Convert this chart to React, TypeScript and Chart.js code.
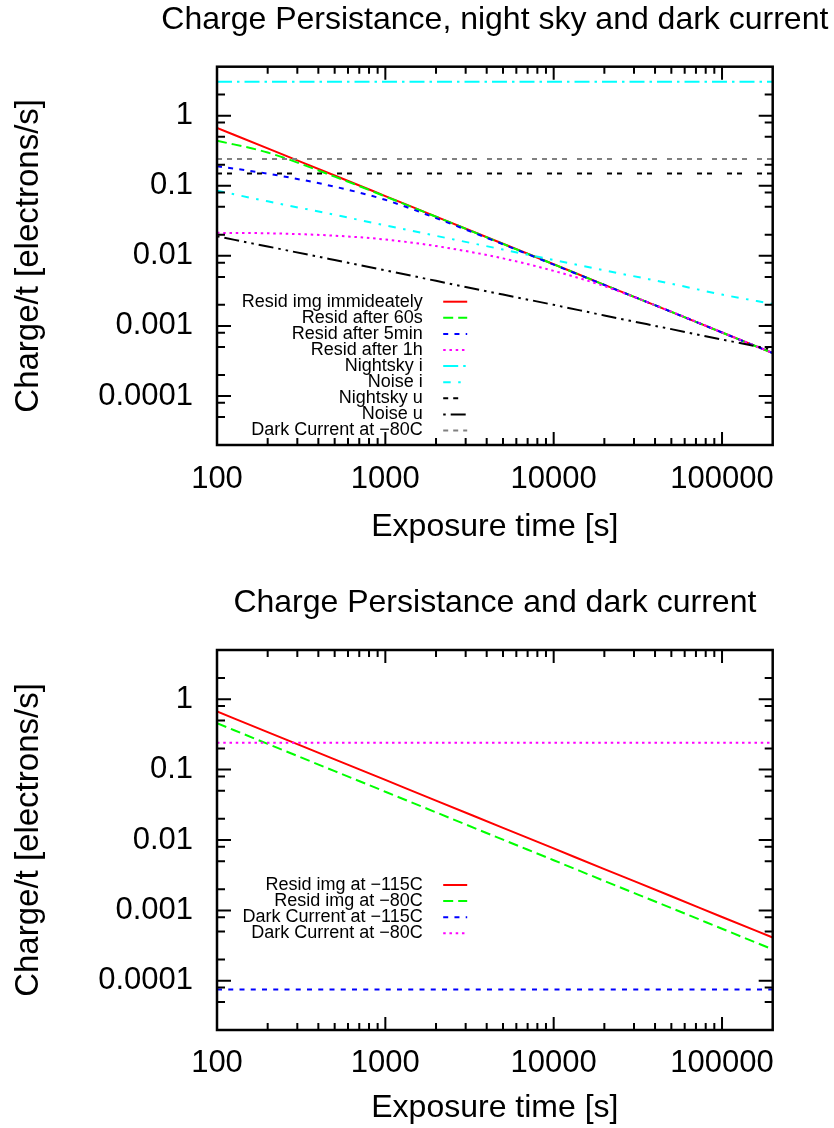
import React, { useEffect, useRef } from "react";
import { Chart, registerables } from "chart.js";

Chart.register(...registerables);

const FONT_FAMILY = '"Liberation Sans", Arial, Helvetica, sans-serif';

// ---------------- data ----------------
const exposureTimes = [100, 200, 500, 1000, 2000, 5000, 10000, 20000, 50000, 100000, 200000];
const flatTimes = [100, 200000];

// top chart
const residImmediately = [0.67, 0.341, 0.14, 0.0713, 0.0363, 0.0149, 0.00759, 0.00386, 0.00159, 0.000807, 0.000411];
const residAfter60s = [0.44, 0.298, 0.135, 0.0704, 0.0361, 0.0148, 0.00757, 0.00385, 0.00159, 0.000806, 0.00041];
const residAfter5min = [0.19, 0.149, 0.097, 0.063, 0.0345, 0.0146, 0.0075, 0.00384, 0.00159, 0.000806, 0.00041];
const residAfter1h = [0.0213, 0.021, 0.0194, 0.0171, 0.0138, 0.0092, 0.0061, 0.0037, 0.0016, 0.00081, 0.00041];
const nightskyI = [3.05, 3.05];
const noiseI = [0.085, 0.06, 0.0385, 0.0272, 0.0193, 0.0123, 0.0087, 0.0062, 0.004, 0.0028, 0.00206];
const nightskyU = [0.15, 0.15];
const noiseU = [0.019, 0.0136, 0.0087, 0.0062, 0.0044, 0.0028, 0.002, 0.00141, 0.0009, 0.00064, 0.00046];
const darkCurrent80 = [0.24, 0.24];

// bottom chart
const residAt115 = [0.67, 0.341, 0.14, 0.0713, 0.0363, 0.0149, 0.00759, 0.00386, 0.00159, 0.000807, 0.000411];
const residAt80 = [0.456, 0.232, 0.0952, 0.0485, 0.0247, 0.0101, 0.00516, 0.00262, 0.00108, 0.000549, 0.000279];
const darkAt115 = [0.000075, 0.000075];
const darkAt80 = [0.24, 0.24];

// axes
const xRange = [100, 200000];
const yRange = [0.00002, 5];
const xTickValues = [100, 1000, 10000, 100000];
const xTickLabels = ["100", "1000", "10000", "100000"];
const yTickValues = [0.0001, 0.001, 0.01, 0.1, 1];
const yTickLabels = ["0.0001", "0.001", "0.01", "0.1", "1"];
const xMinorMantissas = [2, 3, 4, 5, 6, 7, 8, 9];
const yMinorMantissas = [2, 5, 8];

const titleTop = "Charge Persistance, night sky and dark current";
const titleBottom = "Charge Persistance and dark current";
const xAxisTitle = "Exposure time [s]";
const yAxisTitle = "Charge/t [electrons/s]";

type SeriesDef = { label: string; xs: number[]; ys: number[]; color: string; dash: number[] };

const U = 2.5; // dash unit
const topSeries: SeriesDef[] = [
  { label: "Resid img immideately", xs: exposureTimes, ys: residImmediately, color: "#ff0000", dash: [] },
  { label: "Resid after 60s", xs: exposureTimes, ys: residAfter60s, color: "#00ff00", dash: [4 * U, 2 * U] },
  { label: "Resid after 5min", xs: exposureTimes, ys: residAfter5min, color: "#0000ff", dash: [2 * U, 2.5 * U] },
  { label: "Resid after 1h", xs: exposureTimes, ys: residAfter1h, color: "#ff00ff", dash: [1 * U, 1.5 * U] },
  { label: "Nightsky i", xs: flatTimes, ys: nightskyI, color: "#00ffff", dash: [6 * U, 2 * U, 1 * U, 2 * U] },
  { label: "Noise i", xs: exposureTimes, ys: noiseI, color: "#00ffff", dash: [3 * U, 3 * U, 1 * U, 3 * U] },
  { label: "Nightsky u", xs: flatTimes, ys: nightskyU, color: "#000000", dash: [2 * U, 2 * U, 2 * U, 6 * U] },
  { label: "Noise u", xs: exposureTimes, ys: noiseU, color: "#000000", dash: [1 * U, 2 * U, 6 * U, 2 * U, 1 * U, 2 * U] },
  { label: "Dark Current at \u221280C", xs: flatTimes, ys: darkCurrent80, color: "#808080", dash: [2 * U, 2 * U, 2 * U, 2 * U, 2 * U, 2 * U, 2 * U, 4 * U] },
];

const bottomSeries: SeriesDef[] = [
  { label: "Resid img at \u2212115C", xs: exposureTimes, ys: residAt115, color: "#ff0000", dash: [] },
  { label: "Resid img at \u221280C", xs: exposureTimes, ys: residAt80, color: "#00ff00", dash: [4 * U, 2 * U] },
  { label: "Dark Current at \u2212115C", xs: flatTimes, ys: darkAt115, color: "#0000ff", dash: [2 * U, 2.5 * U] },
  { label: "Dark Current at \u221280C", xs: flatTimes, ys: darkAt80, color: "#ff00ff", dash: [1 * U, 1.5 * U] },
];

type Panel = {
  canvasTop: number;
  canvasHeight: number;
  plotLeft: number;
  plotRight: number;
  plotTop: number;
  plotBottom: number;
  titleBaseline: number;
  xTickBaselineOffset: number;
  xLabelBaseline: number;
  yLabelBaselineX: number;
  legendRight: number;
  legendY0: number;
  title: string;
  series: SeriesDef[];
};

const W = 834;
const panels: Panel[] = [
  {
    canvasTop: 0, canvasHeight: 560,
    plotLeft: 217, plotRight: 772.7, plotTop: 66.7, plotBottom: 445,
    titleBaseline: 29, xTickBaselineOffset: 45, xLabelBaseline: 538, yLabelBaselineX: 40,
    legendRight: 422.7, legendY0: 301.7, title: titleTop, series: topSeries,
  },
  {
    canvasTop: 560, canvasHeight: 568,
    plotLeft: 217, plotRight: 772.7, plotTop: 90, plotBottom: 470,
    titleBaseline: 52, xTickBaselineOffset: 44, xLabelBaseline: 559, yLabelBaselineX: 40,
    legendRight: 422.7, legendY0: 325, title: titleBottom, series: bottomSeries,
  },
];

const TICK_SIZE = 31;
const TITLE_SIZE = 32;
const XLABEL_SIZE = 32;
const YLABEL_SIZE = 33;
const LEGEND_SIZE = 18;
const MID = 0.347; // alphabetic baseline below 'middle' baseline, in em

function minorValues(min: number, max: number, mantissas: number[]) {
  const out: number[] = [];
  const n0 = Math.floor(Math.log10(min));
  const n1 = Math.ceil(Math.log10(max));
  for (let n = n0; n <= n1; n++) {
    for (const m of mantissas) {
      const v = m * Math.pow(10, n);
      if (v > min && v < max) out.push(v);
    }
  }
  return out;
}

const framePlugin = {
  id: "gnuframe",
  afterDraw(chart: any, _args: any, opts: any) {
    const ctx = chart.ctx as CanvasRenderingContext2D;
    const { left, right, top, bottom } = chart.chartArea;
    const xs = chart.scales.x;
    const ys = chart.scales.y;
    ctx.save();
    ctx.strokeStyle = "#000";
    ctx.lineWidth = 2;
    ctx.setLineDash([]);
    const xTick = (v: number, len: number) => {
      const p = xs.getPixelForValue(v);
      ctx.beginPath();
      ctx.moveTo(p, bottom);
      ctx.lineTo(p, bottom - len);
      ctx.moveTo(p, top);
      ctx.lineTo(p, top + len);
      ctx.stroke();
    };
    const yTick = (v: number, len: number) => {
      const p = ys.getPixelForValue(v);
      ctx.beginPath();
      ctx.moveTo(left, p);
      ctx.lineTo(left + len, p);
      ctx.moveTo(right, p);
      ctx.lineTo(right - len, p);
      ctx.stroke();
    };
    xTickValues.forEach((v) => xTick(v, 13));
    minorValues(xRange[0], xRange[1], xMinorMantissas).forEach((v) => xTick(v, 7));
    yTickValues.forEach((v) => yTick(v, 14));
    minorValues(yRange[0], yRange[1], yMinorMantissas).forEach((v) => yTick(v, 8));
    ctx.lineWidth = 2.5;
    ctx.strokeRect(left, top, right - left, bottom - top);

    // title
    ctx.fillStyle = "#000";
    ctx.font = `${TITLE_SIZE}px ${FONT_FAMILY}`;
    ctx.textAlign = "center";
    ctx.textBaseline = "alphabetic";
    ctx.fillText(opts.title, (left + right) / 2, opts.titleBaseline);

    // legend
    ctx.font = `${LEGEND_SIZE}px ${FONT_FAMILY}`;
    ctx.textAlign = "right";
    ctx.textBaseline = "middle";
    chart.data.datasets.forEach((ds: any, i: number) => {
      const y = opts.legendY0 + i * 16.1;
      ctx.fillStyle = "#000";
      ctx.fillText(ds.label, opts.legendRight, y);
      ctx.strokeStyle = ds.borderColor;
      ctx.lineWidth = ds.borderWidth;
      ctx.setLineDash(ds.borderDash || []);
      ctx.beginPath();
      ctx.moveTo(opts.legendRight + 20.5, y);
      ctx.lineTo(opts.legendRight + 44.5, y);
      ctx.stroke();
    });
    ctx.restore();
  },
};

function PlotCanvas({ panel }: { panel: Panel }) {
  const ref = useRef<HTMLCanvasElement | null>(null);
  useEffect(() => {
    if (!ref.current) return;
    const H = panel.canvasHeight;
    const tickLH = TICK_SIZE * 1.2;
    const xLH = XLABEL_SIZE * 1.2;
    const yLH = YLABEL_SIZE * 1.2;
    const xTickPad = panel.xTickBaselineOffset - tickLH / 2 - MID * TICK_SIZE;
    const xTitlePadBottom = H - (panel.xLabelBaseline - MID * XLABEL_SIZE) - xLH / 2;
    const yTitlePadTop = panel.yLabelBaselineX - MID * YLABEL_SIZE - yLH / 2;
    const xAxisHeight = H - panel.plotBottom;

    const datasets = panel.series.map((s, i) => ({
      label: s.label,
      data: s.xs.map((x, j) => ({ x, y: s.ys[j] })),
      borderColor: s.color,
      backgroundColor: s.color,
      borderWidth: 2,
      borderDash: s.dash,
      pointRadius: 0,
      pointHoverRadius: 0,
      fill: false,
      cubicInterpolationMode: "monotone" as const,
      order: -i,
    }));

    const chart = new Chart(ref.current, {
      type: "line",
      data: { datasets },
      plugins: [framePlugin],
      options: {
        animation: false,
        responsive: false,
        devicePixelRatio: 1,
        layout: {
          padding: { left: 0, top: panel.plotTop, right: W - panel.plotRight, bottom: 0 },
        },
        plugins: {
          legend: { display: false },
          tooltip: { enabled: false },
          title: { display: false },
          gnuframe: {
            title: panel.title,
            titleBaseline: panel.titleBaseline,
            legendRight: panel.legendRight,
            legendY0: panel.legendY0,
          },
        } as any,
        scales: {
          x: {
            type: "logarithmic",
            position: "bottom",
            min: xRange[0],
            max: xRange[1],
            grid: { display: false, drawTicks: false },
            border: { display: false },
            ticks: {
              autoSkip: false,
              maxRotation: 0,
              color: "#000",
              padding: xTickPad,
              font: { family: FONT_FAMILY, size: TICK_SIZE },
              callback: (v: any) => {
                const k = xTickValues.indexOf(Number(v));
                return k >= 0 ? xTickLabels[k] : "";
              },
            },
            afterBuildTicks: (s: any) => {
              s.ticks = xTickValues.map((v) => ({ value: v }));
            },
            afterFit: (s: any) => {
              s.height = xAxisHeight;
            },
            title: {
              display: true,
              text: xAxisTitle,
              color: "#000",
              font: { family: FONT_FAMILY, size: XLABEL_SIZE },
              padding: { top: 0, bottom: xTitlePadBottom },
            },
          },
          y: {
            type: "logarithmic",
            position: "left",
            min: yRange[0],
            max: yRange[1],
            grid: { display: false, drawTicks: false },
            border: { display: false },
            ticks: {
              autoSkip: false,
              color: "#000",
              padding: panel.plotLeft - 193,
              font: { family: FONT_FAMILY, size: TICK_SIZE },
              callback: (v: any) => {
                const k = yTickValues.indexOf(Number(v));
                return k >= 0 ? yTickLabels[k] : "";
              },
            },
            afterBuildTicks: (s: any) => {
              s.ticks = yTickValues.map((v) => ({ value: v }));
            },
            afterFit: (s: any) => {
              s.width = panel.plotLeft;
            },
            title: {
              display: true,
              text: yAxisTitle,
              color: "#000",
              font: { family: FONT_FAMILY, size: YLABEL_SIZE },
              padding: { top: yTitlePadTop, bottom: 0 },
            },
          },
        },
      } as any,
    });
    return () => chart.destroy();
  }, [panel]);

  return (
    <canvas
      ref={ref}
      width={W}
      height={panel.canvasHeight}
      style={{ position: "absolute", left: 0, top: panel.canvasTop, width: W, height: panel.canvasHeight }}
    />
  );
}

export default function App() {
  return (
    <div style={{ position: "absolute", left: 0, top: 0, width: W, height: 1128, background: "#fff" }}>
      {panels.map((p, i) => (
        <PlotCanvas key={i} panel={p} />
      ))}
    </div>
  );
}
